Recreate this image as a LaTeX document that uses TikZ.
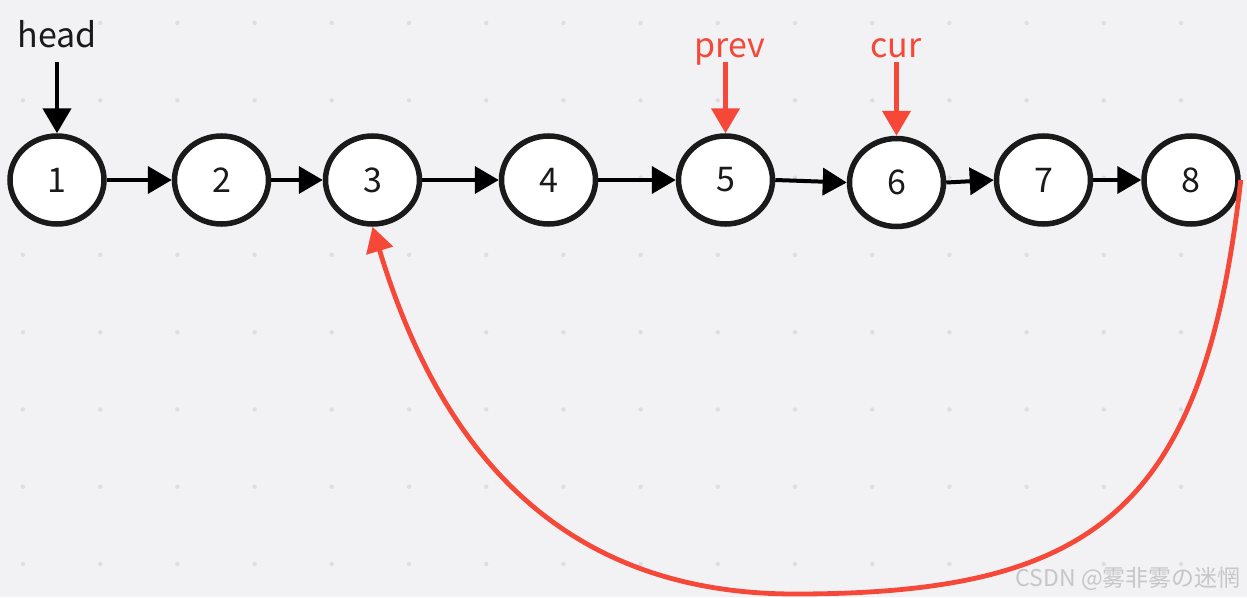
\documentclass[tikz,border=0pt]{standalone}
\usepackage{fontspec}
\newfontfamily\cjk{Noto Sans CJK SC}
\usetikzlibrary{arrows.meta,shapes.geometric}
\definecolor{bg}{RGB}{242,242,245}
\definecolor{dotc}{RGB}{222,222,226}
\definecolor{redc}{RGB}{246,72,56}
\definecolor{ink}{RGB}{26,26,26}
\definecolor{wmc}{RGB}{198,198,200}
\begin{document}
\begin{tikzpicture}[x=1pt,y=-1pt,
  listnode/.style={ellipse, draw=ink, line width=5.5pt, fill=white, minimum width=94pt, minimum height=88pt, inner sep=0pt, font=\cjk\fontsize{34}{40}\selectfont, text=ink},
  link/.style={line width=4pt, draw=black, -{Triangle[length=24pt,width=27pt]}},
  ptr/.style={line width=4.5pt, -{Triangle[length=25pt,width=28pt]}},
  lbl/.style={font=\cjk\fontsize{34}{40}\selectfont, anchor=base, inner sep=0pt}]
\fill[bg] (0,0) rectangle (1247,597);
\useasboundingbox (0,0) rectangle (1247,597);
\foreach \i in {0,...,15}
  \foreach \j in {0,...,7}
    \fill[dotc] (23+77.2*\i, 23+77.3*\j) circle (2.2pt);
% nodes
\node[listnode] (n1) at (57,180) {1};
\node[listnode] (n2) at (221.5,180) {2};
\node[listnode] (n3) at (372.5,180) {3};
\node[listnode] (n4) at (548.5,180) {4};
\node[listnode] (n5) at (725.5,180) {5};
\node[listnode] (n6) at (896.5,182.5) {6};
\node[listnode] (n7) at (1043.5,180) {7};
\node[listnode] (n8) at (1191,180) {8};
% links
\draw[link] (n1.east) -- (n2.west);
\draw[link] (n2.east) -- (n3.west);
\draw[link] (n3.east) -- (n4.west);
\draw[link] (n4.east) -- (n5.west);
\draw[link] (n5.east) -- (n6.west);
\draw[link] (n6.east) -- (n7.west);
\draw[link] (n7.east) -- (n8.west);
% pointers
\node[lbl, text=ink] (head) at (57,47) {head};
\node[lbl, text=redc] (prev) at (730,57) {prev};
\node[lbl, text=redc] (cur) at (896,57) {cur};
\coordinate (h0) at (57,62);
\coordinate (p0) at (725.5,62);
\coordinate (c0) at (896.5,62);
\draw[ptr, draw=black, fill=black] (h0) -- (n1.north);
\draw[ptr, draw=redc, fill=redc] (p0) -- (n5.north);
\draw[ptr, draw=redc, fill=redc] (c0) -- (n6.north);
% back link
\draw[redc, line width=4.8pt, -{Triangle[length=25pt,width=27pt]}]
  (n8.east) .. controls (1204,510) and (1095,594) .. (795,594)
  .. controls (575,594) and (445,467) .. (n3.south);
% watermark
\node[anchor=base east, font=\cjk\fontsize{23}{26}\selectfont, text=wmc, inner sep=0pt] (wm) at (1241,586) {CSDN @雾非雾の迷惘};
\end{tikzpicture}
\end{document}
